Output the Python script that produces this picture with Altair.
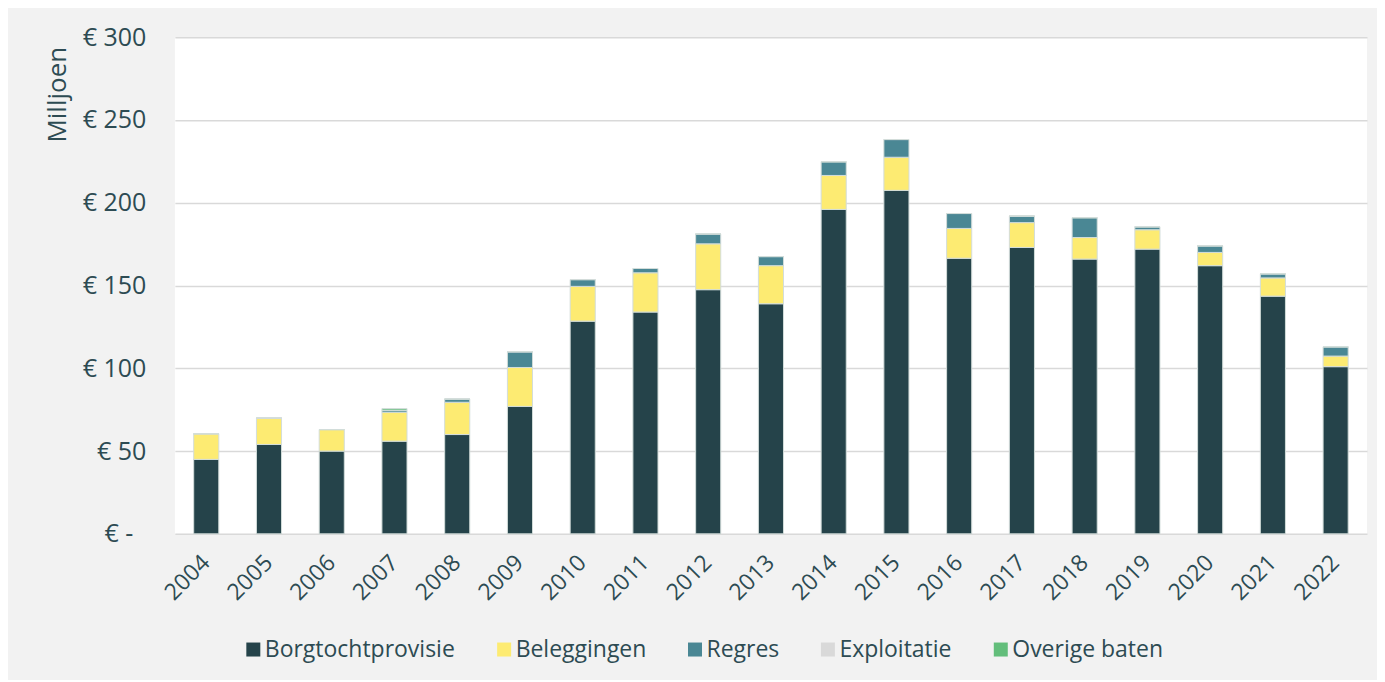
import altair as alt
import pandas as pd

years = [str(y) for y in range(2004, 2023)]
series = ["Borgtochtprovisie", "Beleggingen", "Regres", "Exploitatie", "Overige baten"]
colors = ["#25434a", "#fdeb72", "#4a8794", "#d9d9d9", "#63be7b"]

borg = [45, 54, 50, 56, 60, 77, 128.5, 134, 147.5, 139, 196, 207.5, 166.5, 173, 166, 172, 162, 143.6, 101]
bel = [15.5, 16, 13, 17.5, 19.5, 23.5, 21, 23.7, 27.7, 23, 20.5, 20, 18, 15, 13, 11.7, 8, 11, 6.4]
regres = [0, 0, 0, 1.2, 2, 9.5, 4.1, 2.6, 6, 5.5, 8.3, 10.7, 9, 4, 12, 1.8, 4, 2.5, 5.6]
expl = [0] * 19
overige = [0, 0, 0, 1.0, 0, 0, 0, 0, 0, 0, 0, 0, 0, 0, 0, 0, 0, 0, 0]

rows = []
for i, vals in enumerate([borg, bel, regres, expl, overige]):
    for y, v in zip(years, vals):
        rows.append({"jaar": y, "serie": series[i], "idx": i, "waarde": v})
df = pd.DataFrame(rows)

TXT = "#2d4b53"
FONT = "Open Sans"

chart = alt.Chart(df).mark_bar(stroke="#d3ddda", strokeWidth=1).encode(
    x=alt.X("jaar:N", title=None,
            scale=alt.Scale(paddingInner=0.6, paddingOuter=0.3),
            axis=alt.Axis(labelAngle=-45, labelAlign="right", labelBaseline="middle",
                          labelPadding=25, ticks=False, domain=False,
                          labelFontSize=23, labelColor=TXT, labelFont=FONT)),
    y=alt.Y("waarde:Q", stack="zero", title="Milljoen",
            scale=alt.Scale(domain=[0, 300], nice=False),
            axis=alt.Axis(values=[0, 50, 100, 150, 200, 250, 300],
                          labelExpr="datum.value == 0 ? '€ -' : '€ ' + datum.value",
                          ticks=False, domain=False,
                          labelPadding={"condition": {"test": "datum.value == 0", "value": 42},
                                        "value": 29},
                          labelFontSize=25, labelColor=TXT, labelFont=FONT,
                          gridColor="#d9d9d9", gridWidth=1.5,
                          titleFontSize=26, titleFont=FONT, titleColor=TXT,
                          titleFontWeight="normal", titleAngle=270,
                          titleX=-117, titleY=57, titleAlign="center",
                          titleBaseline="middle")),
    color=alt.Color("serie:N", title=None,
                    scale=alt.Scale(domain=series, range=colors),
                    legend=alt.Legend(orient="none", direction="horizontal",
                                      legendX=67, legendY=601, columns=5,
                                      symbolType="square", symbolSize=196,
                                      symbolStrokeWidth=0, labelFontSize=23,
                                      labelFont=FONT, labelColor=TXT,
                                      labelLimit=400, labelOffset=0,
                                      columnPadding=37)),
    order=alt.Order("idx:Q", sort="ascending"),
).properties(
    width=1193, height=497,
    autosize=alt.AutoSizeParams(type="none"),
    padding={"left": 167, "top": 29, "right": 10, "bottom": 146},
    background="#f2f2f2",
).configure_view(fill="white", stroke=None)

chart.save("out.html", embed_options={"renderer": "svg", "actions": False})
